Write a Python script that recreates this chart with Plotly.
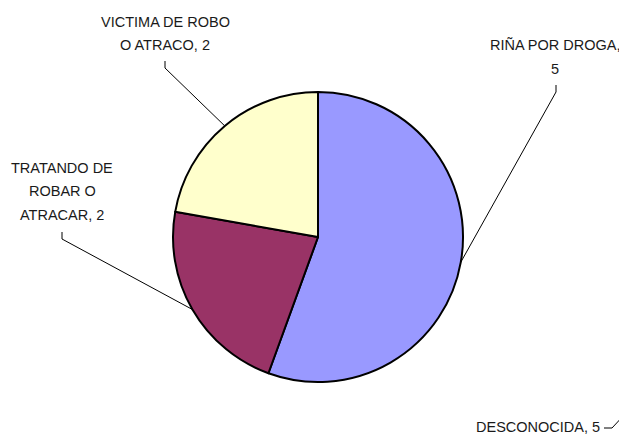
import math
import plotly.graph_objects as go

# Datos del gráfico
categorias = ["RIÑA POR DROGA", "TRATANDO DE ROBAR O ATRACAR", "VICTIMA DE ROBO O ATRACO"]
valores = [5, 2, 2]
colores = ["#9999FF", "#993366", "#FFFFCC"]

# etiqueta fuera del pastel (no aparece como sector)
extra_categoria = "DESCONOCIDA"
extra_valor = 5

W, H = 627, 436
OFF = 8  # margen del body en la página
CX, CY, R = 318, 237, 145  # centro y radio del pastel en px de la ventana


def px(x, y):
    return (x - OFF) / W, 1 - (y - OFF) / H


fig = go.Figure(go.Pie(
    labels=categorias,
    values=valores,
    sort=False,
    direction="clockwise",
    rotation=0,
    textinfo="none",
    hoverinfo="label+value",
    marker=dict(colors=colores, line=dict(color="black", width=2)),
    domain=dict(x=[px(CX - R, 0)[0], px(CX + R, 0)[0]],
                y=[px(0, CY + R)[1], px(0, CY - R)[1]]),
    showlegend=False,
))

# texto de las etiquetas, línea por línea
lineas = [
    ["RIÑA POR DROGA,", "5"],
    ["TRATANDO DE", "ROBAR O", "ATRACAR, 2"],
    ["VICTIMA DE ROBO", "O ATRACO, 2"],
]
# centro x, y de la primera línea, punto superior del guion
pos_etiq = [(555, 45, (556, 85)), (62, 168, (62, 232)), (165, 22, (165, 61))]

font = dict(family="Liberation Sans, Arial, sans-serif", size=14.5, color="#1a1a1a")
total = sum(valores)
acum = 0
shapes = []
annotations = []
for v, ls, (lx, ly, (tx, ty)) in zip(valores, lineas, pos_etiq):
    mid = (acum + v / 2) / total * 2 * math.pi
    acum += v
    ex = CX + R * math.sin(mid)
    ey = CY - R * math.cos(mid)
    for i, t in enumerate(ls):
        x, y = px(lx, ly + i * 23.5)
        annotations.append(dict(x=x, y=y, xref="paper", yref="paper", text=t,
                                showarrow=False, font=font, xanchor="center", yanchor="middle"))
    p0 = px(tx, ty)
    p1 = px(tx, ty + 7)
    p2 = px(ex, ey)
    shapes.append(dict(type="path", xref="paper", yref="paper",
                       path=f"M {p0[0]},{p0[1]} L {p1[0]},{p1[1]} L {p2[0]},{p2[1]}",
                       line=dict(color="black", width=1)))

# etiqueta DESCONOCIDA
x, y = px(602, 427)
annotations.append(dict(x=x, y=y, xref="paper", yref="paper", text=f"{extra_categoria}, {extra_valor}",
                        showarrow=False, font=font, xanchor="right", yanchor="middle"))
a, b, c = px(604, 428), px(612, 428), px(626, 413)
shapes.append(dict(type="path", xref="paper", yref="paper",
                   path=f"M {a[0]},{a[1]} L {b[0]},{b[1]} L {c[0]},{c[1]}",
                   line=dict(color="black", width=1)))

fig.update_layout(
    width=W, height=H,
    margin=dict(l=0, r=0, t=0, b=0),
    paper_bgcolor="white",
    plot_bgcolor="white",
    shapes=shapes,
    annotations=annotations,
)

fig.write_html("out.html")
